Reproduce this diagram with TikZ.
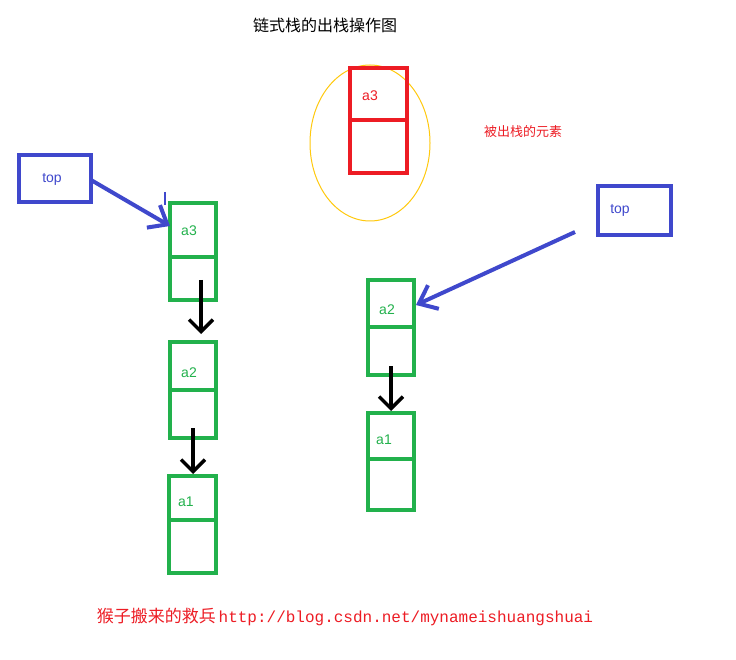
\documentclass[tikz,border=0pt]{standalone}
\usepackage{fontspec}
\setmainfont{Liberation Sans}
\setmonofont{Liberation Mono}
\newfontfamily\cjk{Noto Sans CJK SC}
\usetikzlibrary{arrows.meta}
\definecolor{gr}{RGB}{34,177,76}
\definecolor{bl}{RGB}{63,72,204}
\definecolor{rd}{RGB}{237,28,36}
\definecolor{yl}{RGB}{255,201,14}
\tikzset{
  cell/.style={draw=gr,line width=3.2pt},
  lab/.style={text=gr,font=\fontsize{14}{16}\selectfont},
  down/.style={draw=black,line width=3.5pt,-{Straight Barb[length=12pt,width=24pt,line width=3.5pt]}},
  blarrow/.style={draw=bl,line width=4pt,-{Straight Barb[length=16pt,width=26pt,line width=4pt]}},
  topbox/.style={draw=bl,line width=4pt}
}
\begin{document}
\begin{tikzpicture}[x=1pt,y=-1pt]
\fill[white] (0,0) rectangle (736,660);
\useasboundingbox (0,0) rectangle (736,660);
\node (title) at (325,25) {\cjk\fontsize{16}{18}\selectfont 链式栈的出栈操作图};
\draw[yl,line width=1pt] (370,143) ellipse [x radius=60,y radius=78];
\draw[rd,line width=4pt] (350,68) rectangle (407,173);
\draw[rd,line width=4pt] (350,120) -- (408,120);
\node[text=rd,font=\fontsize{14}{16}\selectfont] (ra3) at (370,96) {a3};
\node[text=rd] (popped) at (523,132) {\cjk\fontsize{13}{15}\selectfont 被出栈的元素};
% left
\draw[topbox] (19,155) rectangle (91,202);
\node[text=bl,font=\fontsize{14}{16}\selectfont] (ltop) at (52,179) {top};
\coordinate (ltopE) at (91,180);
\draw[cell] (170,203) rectangle (216,300); \draw[cell] (170,257) -- (216,257);
\node[lab] (la3) at (189,231) {a3};
\coordinate (la3W) at (170,226);
\draw[blarrow] (ltopE) -- (la3W);
\draw[bl,line width=2.5pt] (165,192) -- (165,205);
\draw[cell] (170,342) rectangle (216,438); \draw[cell] (170,390) -- (216,390);
\node[lab] (la2) at (189,373) {a2};
\draw[cell] (169,476) rectangle (216,573); \draw[cell] (169,520) -- (216,520);
\node[lab] (la1) at (186,502) {a1};
\coordinate (d1s) at (201,280); \coordinate (d1e) at (201,334);
\draw[down] (d1s) -- (d1e);
\coordinate (d2s) at (193,428); \coordinate (d2e) at (193,474);
\draw[down] (d2s) -- (d2e);
% right
\draw[topbox] (598,186) rectangle (671,235);
\node[text=bl,font=\fontsize{14}{16}\selectfont] (rtop) at (620,210) {top};
\coordinate (rtopW) at (575,232);
\draw[cell] (368,280) rectangle (414,375); \draw[cell] (368,327) -- (414,327);
\node[lab] (ra2) at (387,310) {a2};
\coordinate (ra2E) at (416,305);
\draw[blarrow] (rtopW) -- (ra2E);
\draw[cell] (368,413) rectangle (414,510); \draw[cell] (368,459) -- (414,459);
\node[lab] (ra1) at (384,440) {a1};
\coordinate (d3s) at (391,366); \coordinate (d3e) at (391,411);
\draw[down] (d3s) -- (d3e);
\node[text=rd] (footer) at (345,617) {{\cjk\fontsize{17}{20}\selectfont 猴子搬来的救兵} {\ttfamily\fontsize{16}{20}\selectfont http://blog.csdn.net/mynameishuangshuai}};
\end{tikzpicture}
\end{document}
